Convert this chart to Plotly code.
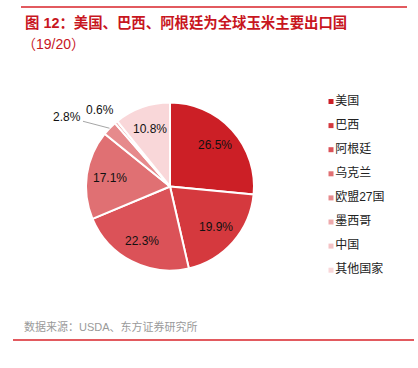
import math
import plotly.graph_objects as go

categories = ["美国", "巴西", "阿根廷", "乌克兰", "欧盟27国", "墨西哥", "中国", "其他国家"]
shares = [26.5, 19.9, 22.3, 17.1, 2.8, 0.6, 0.0, 10.8]
colors = ["#CC1F26", "#D5393E", "#DB5258", "#E07073", "#E68A8C", "#EEAAAC", "#F4C3C5", "#F9D7D9"]

title_text = "图 12：美国、巴西、阿根廷为全球玉米主要出口国"
subtitle_text = "（19/20）"
source_text = "数据来源：USDA、东方证券研究所"

W, H = 418, 368
FONT = "Liberation Sans, Arial, Noto Sans CJK SC, sans-serif"

# pie geometry (pixels)
cx, cy, r = 170, 186.5, 84
dom_x = [(cx - r) / W, (cx + r) / W]
dom_y = [1 - (cy + r) / H, 1 - (cy - r) / H]

fig = go.Figure()
fig.add_trace(go.Pie(
    labels=categories, values=shares, sort=False, direction="clockwise", rotation=0,
    marker=dict(colors=colors, line=dict(color="white", width=2)),
    textinfo="none",
    domain=dict(x=dom_x, y=dom_y), showlegend=False, hoverinfo="label+value",
))

# legend as scatter markers + text
leg_x = 331
leg_y0, leg_step = 101.5, 24.1
fig.add_trace(go.Scatter(
    x=[leg_x] * len(categories),
    y=[leg_y0 + i * leg_step for i in range(len(categories))],
    mode="markers+text", text=categories, textposition="middle right",
    textfont=dict(family=FONT, size=12, color="#222222"),
    marker=dict(symbol="square", size=5, color=colors),
    showlegend=False, hoverinfo="skip", cliponaxis=False,
))

# slice labels located from cumulative shares
annotations = []
cum = 0.0
mids = []
for v in shares:
    mids.append(cum + v / 2)
    cum += v
total = sum(shares)

def polar_point(idx, rad):
    ang = mids[idx] / total * 2 * math.pi
    return cx + rad * math.sin(ang), cy - rad * math.cos(ang)

lab_font = dict(family=FONT, size=12, color="#111111")
for i, v in enumerate(shares):
    if v >= 5:
        px, py = polar_point(i, 61)
        annotations.append(dict(x=px, y=py, xref="x", yref="y", text=f"{v:.1f}%",
                                showarrow=False, font=lab_font))

# EU 2.8% with leader line
ex, ey = polar_point(4, r)
annotations.append(dict(x=ex, y=ey, xref="x", yref="y", text=f"{shares[4]:.1f}%",
                        showarrow=True, arrowhead=0, arrowwidth=1, arrowcolor="#A6A6A6",
                        ax=-42, ay=-11, standoff=0, font=lab_font))
# Mexico 0.6%
mx, my = polar_point(5, r)
annotations.append(dict(x=mx, y=my, xref="x", yref="y", text=f"{shares[5]:.1f}%",
                        showarrow=False, xshift=-16, yshift=12, font=lab_font))

annotations.append(dict(x=23, y=22, xref="x", yref="y", text=f"<b>{title_text}</b>",
                        showarrow=False, xanchor="left", yanchor="middle",
                        font=dict(family=FONT, size=14.4, color="#C8161E")))
annotations.append(dict(x=20, y=44, xref="x", yref="y", text=subtitle_text,
                        showarrow=False, xanchor="left", yanchor="middle",
                        font=dict(family=FONT, size=14, color="#C8161E")))
annotations.append(dict(x=22, y=326, xref="x", yref="y", text=source_text,
                        showarrow=False, xanchor="left", yanchor="middle",
                        font=dict(family=FONT, size=11, color="#9A9A9A")))

shapes = [
    dict(type="line", xref="x", yref="y", x0=21, x1=407, y0=7, y1=7,
         line=dict(color="#D9232A", width=1.5)),
    dict(type="line", xref="x", yref="y", x0=13, x1=414, y0=340, y1=340,
         line=dict(color="#D9232A", width=1.5)),
]

fig.update_layout(
    width=W, height=H, margin=dict(l=0, r=0, t=0, b=0),
    paper_bgcolor="white", plot_bgcolor="white",
    xaxis=dict(range=[0, W], visible=False, fixedrange=True, domain=[0, 1]),
    yaxis=dict(range=[H, 0], visible=False, fixedrange=True, domain=[0, 1]),
    annotations=annotations, shapes=shapes,
    font=dict(family=FONT),
)

fig.write_html("out.html", post_script="document.body.style.margin='0px';",
               config={"displayModeBar": False})
